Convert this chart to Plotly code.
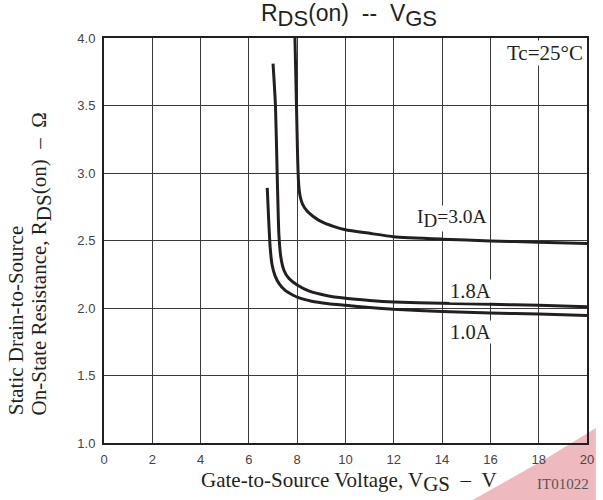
import plotly.graph_objects as go

# ---- data ----
vgs_3a = [7.90, 7.97, 8.02, 8.06, 8.12, 8.22, 8.40, 8.65, 9.00, 9.50, 10.0, 11.0, 12.0, 14.0, 16.0, 18.0, 20.0]
rds_3a = [4.05, 3.50, 3.10, 2.92, 2.83, 2.77, 2.72, 2.68, 2.64, 2.605, 2.58, 2.553, 2.528, 2.51, 2.497, 2.487, 2.477]

vgs_18a = [7.00, 7.10, 7.17, 7.24, 7.32, 7.45, 7.65, 8.00, 8.50, 9.20, 10.0, 11.0, 12.0, 14.0, 16.0, 18.0, 20.0]
rds_18a = [3.81, 3.50, 3.00, 2.55, 2.38, 2.28, 2.22, 2.17, 2.125, 2.093, 2.072, 2.056, 2.045, 2.035, 2.027, 2.02, 2.01]

vgs_10a = [6.76, 6.82, 6.88, 6.96, 7.08, 7.25, 7.50, 8.00, 8.60, 9.30, 10.0, 11.0, 12.0, 14.0, 16.0, 18.0, 20.0]
rds_10a = [2.89, 2.65, 2.45, 2.32, 2.24, 2.18, 2.13, 2.08, 2.05, 2.032, 2.02, 2.003, 1.99, 1.975, 1.963, 1.955, 1.945]

x_ticks = [0, 2, 4, 6, 8, 10, 12, 14, 16, 18, 20]
y_ticks = [1.0, 1.5, 2.0, 2.5, 3.0, 3.5, 4.0]

LINE = "#231f20"
SERIF = "Liberation Serif, Times New Roman, serif"
SANS = "Liberation Sans, Arial, sans-serif"

def sub(t, size):
    return f"<sub><span style='font-size:{size}px'>{t}</span></sub>"

fig = go.Figure()
for xs, ys in [(vgs_3a, rds_3a), (vgs_18a, rds_18a), (vgs_10a, rds_10a)]:
    fig.add_trace(go.Scatter(x=xs, y=ys, mode="lines",
                             line=dict(color=LINE, width=3, shape="spline", smoothing=0.5),
                             showlegend=False, hoverinfo="skip"))

axis_common = dict(showgrid=True, gridcolor="#3a3a3a", gridwidth=1,
                   showline=True, linecolor="#231f20", linewidth=2, mirror=True,
                   zeroline=False, ticks="",
                   tickfont=dict(family=SANS, size=13, color="#444"))

fig.update_layout(
    width=603, height=500,
    margin=dict(l=104, r=9, t=38, b=57),
    paper_bgcolor="white", plot_bgcolor="white",
    xaxis=dict(range=[0, 20], tickvals=x_ticks, ticktext=[str(v) for v in x_ticks],
               ticklabelstandoff=3, **axis_common),
    yaxis=dict(range=[1, 4], tickvals=y_ticks, ticktext=[f"{v:.1f}" for v in y_ticks],
               ticklabelstandoff=4, **axis_common),
    title=dict(text=f"R{sub('DS', 22)}(on)&nbsp;&nbsp;--&nbsp;&nbsp;V{sub('GS', 22)}",
               font=dict(family=SANS, size=23, color="#231f20"),
               x=349 / 603, xanchor="center", y=0.99, yanchor="top"),
)

ann = []
def add(text, x, y, size=21, xanchor="center", yanchor="middle", textangle=0,
        bg=None, color="#231f20", family=SERIF):
    d = dict(text=text, x=x, y=y, xref="paper", yref="paper", showarrow=False,
             font=dict(family=family, size=size, color=color),
             xanchor=xanchor, yanchor=yanchor, textangle=textangle)
    if bg:
        d.update(bgcolor=bg, borderpad=0)
    ann.append(d)

def px(x):  # pixel -> paper x
    return (x - 104) / (603 - 104 - 9)
def py(y):
    return (500 - 57 - y) / (500 - 38 - 57)

add("Tc=25°C", px(551), py(53), size=21, bg="white")
add(f"I{sub('D', 19)}=3.0A", px(457), py(218), size=19.5, bg="white")
add("1.8A", px(476), py(291), size=20.5, bg="white")
add("1.0A", px(476), py(332), size=20.5, bg="white")
add(f"Gate-to-Source Voltage, V{sub('GS', 21)}&nbsp;&nbsp;–&nbsp;&nbsp;V", px(200), py(482),
    size=21, xanchor="left")
add("IT01022", px(570), py(484), size=15, color="#555")
add("Static Drain-to-Source", px(15), py(417), size=21, yanchor="bottom", textangle=-90)
add(f"On-State Resistance, R{sub('DS', 21)}(on)&nbsp;&nbsp;–&nbsp;&nbsp;Ω", px(40), py(417), size=21,
    yanchor="bottom", textangle=-90)
fig.update_layout(annotations=ann)

# faint red watermark in lower right corner
fig.add_shape(type="path", xref="paper", yref="paper", layer="below",
              path=f"M {px(478)} {py(500)} L {px(550)} {py(460)} L {px(603)} {py(428)} L {px(603)} {py(500)} Z",
              fillcolor="#e9a3aa", line=dict(width=0), opacity=0.75)

fig.write_html("out.html")
